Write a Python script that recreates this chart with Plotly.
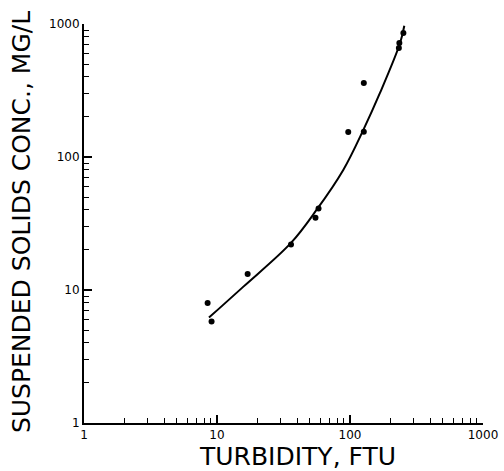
import plotly.graph_objects as go

# measured samples (turbidity FTU, suspended solids mg/L)
turbidity = [8.5, 9.1, 17, 36, 55, 58, 97, 127, 127, 233, 235, 252]
solids = [8.0, 5.8, 13.2, 22, 35, 41, 154, 155, 360, 660, 720, 855]

# fitted curve
curve_x = [8.7, 15.8, 36, 56, 89, 126, 168, 238, 256]
curve_y = [6.2, 10.6, 22.6, 40, 80, 160, 303, 719, 970]

tick_vals = [1, 10, 100, 1000]
tick_text = ["1", "10", "100", "1000"]

fig = go.Figure()
fig.add_trace(go.Scatter(x=curve_x, y=curve_y, mode="lines",
                         line=dict(color="black", width=2, shape="spline"),
                         hoverinfo="skip"))
fig.add_trace(go.Scatter(x=turbidity, y=solids, mode="markers",
                         marker=dict(color="black", size=6)))

axis_style = dict(type="log", range=[0, 3], showgrid=False, zeroline=False,
                  showline=True, linecolor="black", linewidth=2,
                  automargin=False,
                  ticks="inside", ticklen=8, tickwidth=1.5, tickcolor="black",
                  tickvals=tick_vals, ticktext=tick_text,
                  tickfont=dict(family="DejaVu Sans", size=12, color="black"),
                  minor=dict(ticks="inside", ticklen=5, tickwidth=1.2,
                             tickcolor="black", dtick="D1", showgrid=False))

title_font = dict(family="DejaVu Sans", size=25, color="black")

fig.update_layout(
    width=504, height=471,
    margin=dict(l=84, r=21, t=24, b=48),
    paper_bgcolor="white", plot_bgcolor="white",
    showlegend=False,
    xaxis=axis_style,
    yaxis=axis_style,
    annotations=[
        dict(text="TURBIDITY, FTU", xref="paper", yref="paper",
             x=0.534, y=-0.085, showarrow=False, font=title_font,
             xanchor="center", yanchor="middle"),
        dict(text="SUSPENDED SOLIDS CONC., MG/L", xref="paper", yref="paper",
             x=-0.155, y=0.504, showarrow=False, font=title_font, textangle=-90,
             xanchor="center", yanchor="middle"),
    ],
)

# page body has an 8px default margin, drop it so the figure fills the window
fig.write_html("out.html", config={"displayModeBar": False},
               post_script="document.body.style.margin='0px';")
